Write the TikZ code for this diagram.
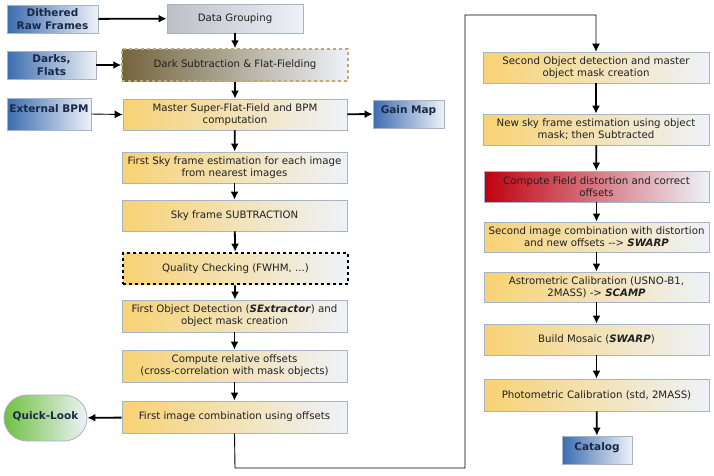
\documentclass[tikz,border=0pt]{standalone}
\usepackage{fontspec}
\setmainfont{DejaVu Sans}
\usetikzlibrary{arrows.meta,shapes.misc}
\definecolor{bordc}{HTML}{A8B4C4}
\definecolor{pale}{HTML}{EEF2F8}
\definecolor{yel}{HTML}{F8D274}
\definecolor{blu}{HTML}{3C6CB0}
\definecolor{gry}{HTML}{BCC0C6}
\definecolor{brn}{HTML}{74643C}
\definecolor{redc}{HTML}{C00010}
\definecolor{grn}{HTML}{70C040}
\definecolor{navy}{HTML}{1A2848}
\definecolor{txt}{HTML}{202020}
\definecolor{tan}{HTML}{C0A878}
\tikzset{
  x=1pt,y=-1pt,
  base/.style={draw=bordc, line width=0.8pt, inner sep=0pt, align=center, text=txt,
     font=\fontsize{10.2}{12.3}\selectfont},
  ybox/.style={base, left color=yel, right color=pale},
  bbox/.style={base, left color=blu, right color=pale, text=navy,
     font=\fontsize{10.5}{12.5}\selectfont\bfseries},
  conn/.style={line width=1.8pt, -{Latex[length=8pt,width=8pt]}},
  thinconn/.style={line width=0.9pt, -{Latex[length=8pt,width=8pt]}},
}
\newcommand{\bi}[1]{\textbf{\textit{#1}}}
\begin{document}
\begin{tikzpicture}
\useasboundingbox[fill=white] (0,0) rectangle (714,475);
% left inputs
\node[bbox, minimum width=91, minimum height=28] (raw) at (52.5,19) {Dithered\\Raw Frames};
\node[bbox, minimum width=89, minimum height=28] (darks) at (51.5,65) {Darks,\\Flats};
\node[bbox, minimum width=84, minimum height=32, text depth=10pt] (ebpm) at (49,114) {External BPM};
\node[bbox, minimum width=71, minimum height=28, text depth=8pt] (gain) at (408.5,114) {Gain Map};
% left column
\node[base, left color=gry, right color=pale, minimum width=136, minimum height=29] (grp) at (235,18.5) {Data Grouping};
\node[base, left color=brn, right color=pale, draw=tan, dashed, line width=1.5pt, minimum width=226, minimum height=32] (dark) at (235,65) {Dark Subtraction \& Flat-Fielding};
\node[ybox, minimum width=224, minimum height=31] (master) at (235,114.5) {Master Super-Flat-Field and BPM\\computation};
\node[ybox, minimum width=225, minimum height=31] (sky1) at (234.5,167.5) {First Sky frame estimation for each image\\from nearest images};
\node[ybox, minimum width=225, minimum height=31] (skysub) at (234.5,215.5) {Sky frame SUBTRACTION};
\node[ybox, draw=black, dashed, line width=2.6pt, minimum width=225, minimum height=31] (qc) at (235.5,268.5) {Quality Checking (FWHM, ...)};
\node[ybox, minimum width=225, minimum height=32] (obj) at (234.5,316) {First Object Detection (\bi{SExtractor}) and\\object mask creation};
\node[ybox, minimum width=225, minimum height=32] (offs) at (234.5,366) {Compute relative offsets\\(cross-correlation with mask objects)};
\node[ybox, minimum width=225, minimum height=32] (comb) at (234.5,417) {First image combination using offsets};
\node[base, rounded rectangle, left color=grn, right color=pale, text=navy,
  font=\fontsize{10.5}{12.5}\selectfont\bfseries, minimum width=83, minimum height=46, text depth=6pt] (ql) at (45.5,418) {Quick-Look};
% right column
\node[ybox, minimum width=226, minimum height=31] (obj2) at (596,67.5) {Second Object detection and master\\object mask creation};
\node[ybox, minimum width=226, minimum height=31] (sky2) at (596,129.5) {New sky frame estimation using object\\mask; then Subtracted};
\node[base, left color=redc, right color=pale, minimum width=225, minimum height=31] (dist) at (596.5,186.5) {Compute Field distortion and correct\\offsets};
\node[ybox, minimum width=225, minimum height=30] (comb2) at (596.5,237) {Second image combination with distortion\\and new offsets {-}{-}> \bi{SWARP}};
\node[ybox, minimum width=225, minimum height=30] (astro) at (596.5,287) {Astrometric Calibration (USNO-B1,\\2MASS) -> \bi{SCAMP}};
\node[ybox, minimum width=225, minimum height=31] (mosaic) at (596.5,339.5) {Build Mosaic (\bi{SWARP})};
\node[ybox, minimum width=225, minimum height=32] (phot) at (596.5,395) {Photometric Calibration (std, 2MASS)};
\node[bbox, minimum width=70, minimum height=28, text depth=8pt] (cat) at (597,450) {Catalog};
% connectors
\draw[conn] (raw) -- (grp);
\draw[conn] (darks) -- (dark);
\draw[thinconn] (ebpm.east) -- (master.west);
\draw[conn] (master) -- (gain);
\draw[conn] (grp) -- (dark);
\draw[conn] (dark) -- (master);
\draw[conn] (master) -- (sky1);
\draw[conn] (sky1) -- (skysub);
\draw[conn] (skysub) -- (qc);
\draw[conn] (qc) -- (obj);
\draw[conn] (obj) -- (offs);
\draw[conn] (offs) -- (comb);
\draw[conn] (comb) -- (ql);
\coordinate (lb) at (235,468);
\coordinate (lt) at (465,15);
\draw[thinconn] (comb.south) -- (lb) -| (lt) -| (obj2.north);
\draw[conn] (obj2) -- (sky2);
\draw[conn] (sky2) -- (dist);
\draw[conn] (dist) -- (comb2);
\draw[conn] (comb2) -- (astro);
\draw[conn] (astro) -- (mosaic);
\draw[conn] (mosaic) -- (phot);
\draw[conn] (phot) -- (cat);
\end{tikzpicture}
\end{document}
